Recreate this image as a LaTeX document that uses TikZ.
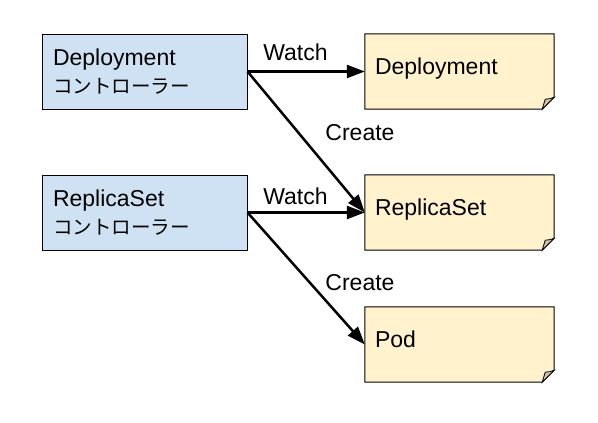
\documentclass[tikz,border=0pt]{standalone}
\usepackage{fontspec}
\setmainfont{Liberation Sans}
\newfontfamily\cjk[Scale=0.85]{Noto Sans CJK JP}
\usetikzlibrary{arrows.meta,backgrounds}
\definecolor{ctrlblue}{HTML}{CFE2F3}
\definecolor{docyellow}{HTML}{FFF2CC}
\definecolor{docfold}{HTML}{CCC2A3}
\def\lbl{\fontsize{23}{28}\selectfont}
\tikzset{
	ctrl/.style={draw=black, fill=ctrlblue, line width=1pt, minimum width=205pt, minimum height=75pt, text width=183pt, align=left, inner sep=0pt, font=\lbl},
	res/.style={minimum width=189pt, minimum height=75pt, text width=169pt, text depth=11pt, align=left, inner sep=0pt, font=\lbl},
	flow/.style={line width=2.5pt, -{Triangle[length=18pt,width=13pt]}},
	flowlbl/.style={inner sep=0pt, font=\lbl},
}

\begin{document}
\begin{tikzpicture}[x=1pt, y=-1pt]
		%%%%% START %%%%%
		\useasboundingbox (0, 0) rectangle (598, 423);
		
		% controllers
		\node[ctrl] (dctl) at (144.5, 71.5) {Deployment\\{\cjk コントローラー}};
		\node[ctrl] (rsctl) at (144.5, 212.5) {ReplicaSet\\{\cjk コントローラー}};
		
		% resources
		\node[res] (dep) at (459.5, 71.5) {Deployment};
		\node[res] (rs) at (459.5, 212.5) {ReplicaSet};
		\node[res] (pod) at (459.5, 344.5) {Pod};
		
		\begin{scope}[on background layer]
		\foreach \n in {dep, rs, pod} {
			\draw[fill=docyellow, line width=1pt] (\n.north west) -- (\n.north east) -- ([yshift=12pt]\n.south east) -- ([xshift=-12pt]\n.south east) -- (\n.south west) -- cycle;
			\draw[fill=docfold, line width=0.8pt] ([yshift=12pt]\n.south east) to[bend left=10] ([xshift=-9pt, yshift=10pt]\n.south east) -- ([xshift=-12pt]\n.south east) -- cycle;
		}
		\end{scope}
		
		% arrows
		\draw[flow] (dctl.east) -- (dep.west);
		\draw[flow] (dctl.east) -- (rs.west);
		\draw[flow] (rsctl.east) -- (rs.west);
		\draw[flow] (rsctl.east) -- (pod.west);
		
		\node[flowlbl] (watch1) at (295.5, 52) {Watch};
		\node[flowlbl] (create1) at (360, 133) {Create};
		\node[flowlbl] (watch2) at (295.5, 196) {Watch};
		\node[flowlbl] (create2) at (360, 283) {Create};
		
		%%%%% END %%%%%
	\end{tikzpicture}
\end{document}
